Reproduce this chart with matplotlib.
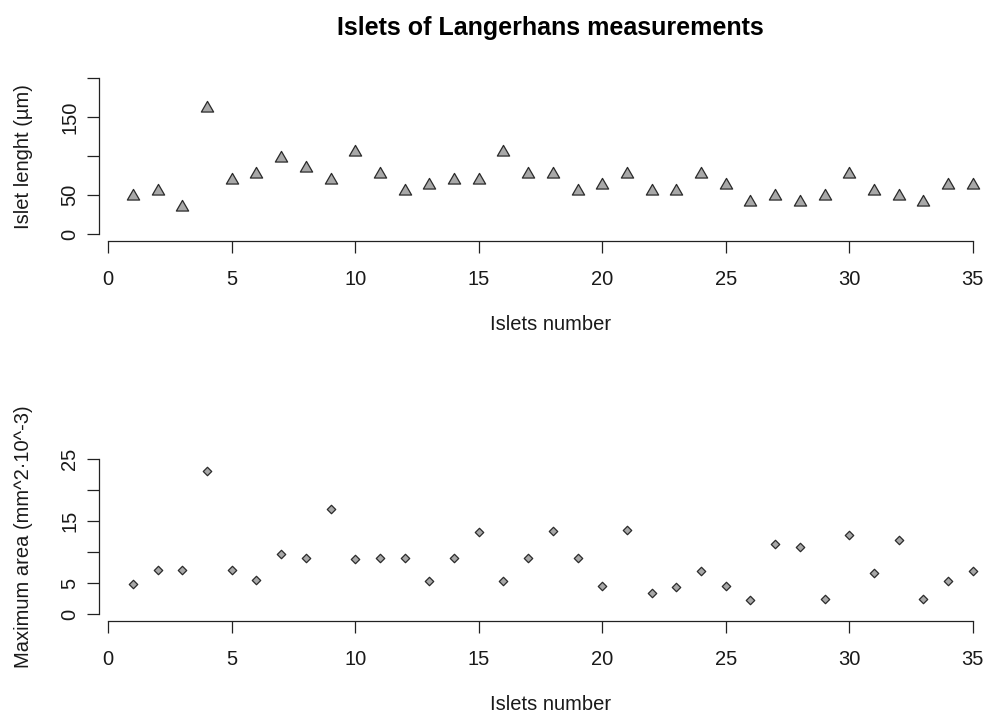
import numpy as np
import matplotlib.pyplot as plt
from matplotlib.path import Path

plt.rcParams['font.family'] = ['Liberation Sans', 'DejaVu Sans']

islets = list(range(1, 36))
islet_length = [49, 56, 35, 162, 70, 77, 98, 85, 70, 105, 77, 56, 63, 70, 70,
                105, 77, 77, 56, 63, 77, 56, 56, 77, 63, 42, 49, 42, 49, 77,
                56, 49, 42, 63, 63]
max_area = [4.9, 7.2, 7.2, 23.1, 7.2, 5.5, 9.7, 9.0, 16.9, 8.9, 9.0, 9.0, 5.3, 9.0, 13.2,
            5.3, 9.0, 13.4, 9.0, 4.5, 13.6, 3.5, 4.4, 7.0, 4.5, 2.3, 11.3, 10.9, 2.5, 12.8,
            6.6, 12.0, 2.5, 5.4, 7.0]

len_ticks = [0, 50, 100, 150, 200]
len_labels = ['0', '50', '', '150', '']
area_ticks = [0, 5, 10, 15, 20, 25]
area_labels = ['0', '5', '', '15', '', '25']
x_ticks = [0, 5, 10, 15, 20, 25, 30, 35]

W, H = 984, 713
fig = plt.figure(figsize=(W / 100, H / 100), dpi=100)

# equilateral triangle centred on its centroid, like R's pch 24
tri = Path([(-1, -0.577), (1, -0.577), (0, 1.155), (-1, -0.577)],
           [Path.MOVETO, Path.LINETO, Path.LINETO, Path.CLOSEPOLY])

fill = '#a8a8a8'
edge = '#2a2a2a'
txt = '#1a1a1a'
fs = 14.5

left_px = 99.3
right_px = 984
x0_px, px_per_unit = 108.3, 24.697
xlim = (-(x0_px - left_px) / px_per_unit, (right_px - x0_px) / px_per_unit)
xlab_x = (551 - left_px) / (right_px - left_px)


def make_axes(bottom_px, top_px):
    ax = fig.add_axes([left_px / W, 1 - bottom_px / H,
                       (right_px - left_px) / W, (bottom_px - top_px) / H])
    for s in ['top', 'right']:
        ax.spines[s].set_visible(False)
    for s in ['left', 'bottom']:
        ax.spines[s].set_linewidth(0.9)
        ax.spines[s].set_color('#222222')
    ax.tick_params(length=8.4, width=0.9, color='#222222', labelsize=fs,
                   labelcolor=txt)
    ax.tick_params(axis='x', pad=13)
    ax.tick_params(axis='y', pad=6)
    ax.set_xlim(*xlim)
    ax.set_xticks(x_ticks)
    ax.spines['bottom'].set_bounds(0, 35)
    ax.set_xlabel('Islets number', fontsize=fs, color=txt)
    ax.xaxis.set_label_coords(xlab_x, -74 / (bottom_px - top_px))
    return ax


# top panel: islet length
ax1 = make_axes(240.5, 72.1)
ax1.scatter(islets, islet_length, marker=tri, s=10.2 ** 2, facecolor=fill,
            edgecolor=edge, linewidth=0.9, zorder=3)
ax1.set_ylim(-8, 208)
ax1.set_yticks(len_ticks)
ax1.set_yticklabels(len_labels, rotation=90, va='center')
ax1.spines['left'].set_bounds(0, 200)
ax1.set_ylabel('Islet lenght (µm)', fontsize=fs, color=txt)
ax1.yaxis.set_label_coords(-66 / (right_px - left_px), 0.5)

# bottom panel: maximum area
ax2 = make_axes(620.5, 452.8)
ax2.scatter(islets, max_area, marker='D', s=4.3 ** 2, facecolor=fill,
            edgecolor=edge, linewidth=0.9, zorder=3)
ax2.set_ylim(-1, 26)
ax2.set_yticks(area_ticks)
ax2.set_yticklabels(area_labels, rotation=90, va='center')
ax2.spines['left'].set_bounds(0, 25)
ax2.set_ylabel('Maximum area (mm^2·10^-3)', fontsize=fs, color=txt)
ax2.yaxis.set_label_coords(-66 / (right_px - left_px), 0.5)

fig.text(550 / W, 1 - 28 / H, 'Islets of Langerhans measurements',
         fontsize=18, fontweight='bold', ha='center', va='center', color='black')

fig.savefig('out.png', dpi=100)
